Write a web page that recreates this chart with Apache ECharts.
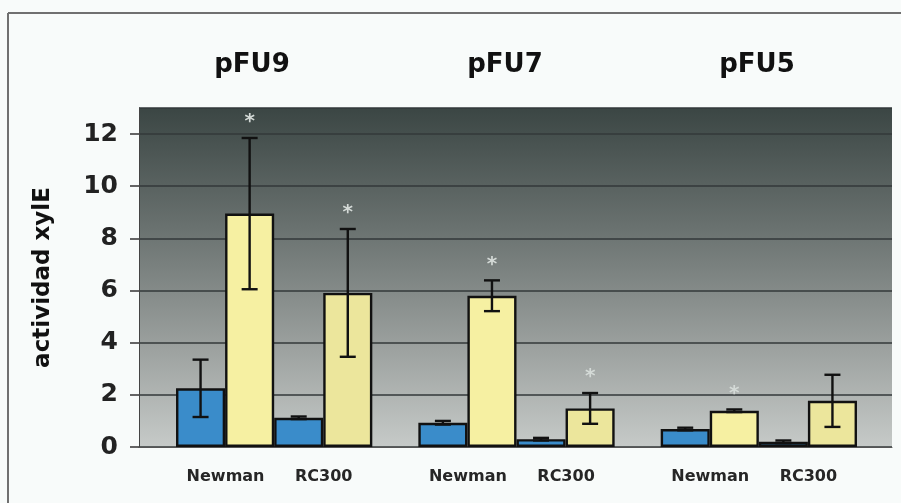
<!DOCTYPE html>
<html>
<head>
<meta charset="utf-8">
<script src="https://cdn.jsdelivr.net/npm/echarts@6/dist/echarts.min.js"></script>
<style>
html,body{margin:0;padding:0;background:#f8fbfa;}
#chart{width:901px;height:503px;}
</style>
</head>
<body>
<div id="chart"></div>
<script>
// ---- data ----
var groups = ['pFU9', 'pFU7', 'pFU5'];
var strainLabels = ['Newman', 'RC300'];
var yTicks = [0, 2, 4, 6, 8, 10, 12];
var newmanCtrl = [2.25, 0.93, 0.69];
var newmanCtrlErr = [1.10, 0.07, 0.05];
var newmanInd = [8.95, 5.80, 1.39];
var newmanIndErr = [2.90, 0.59, 0.05];
var rcCtrl = [1.12, 0.30, 0.20];
var rcCtrlErr = [0.05, 0.05, 0.05];
var rcInd = [5.91, 1.48, 1.77];
var rcIndErr = [2.45, 0.59, 1.00];
var newmanIndSig = [1, 1, 1];
var rcIndSig = [1, 1, 0];
var yAxisTitle = 'actividad xylE';

// ---- styles ----
var FONT = '"DejaVu Sans", sans-serif';
var BLUE = '#3a8cca';
var YELLOW = '#f6f0a2';
var YELLOW2 = '#ece69c';
var CAT_GAP = 0.19;

var chart = echarts.init(document.getElementById('chart'));

var means = [newmanCtrl, newmanInd, rcCtrl, rcInd];
var errs = [newmanCtrlErr, newmanIndErr, rcCtrlErr, rcIndErr];
var sigs = [null, newmanIndSig, null, rcIndSig];
var colors = [BLUE, YELLOW, BLUE, YELLOW2];

function errSeries(k) {
  var data = means[k].map(function (v, i) {
    return [i, v, errs[k][i], sigs[k] ? sigs[k][i] : 0];
  });
  return {
    type: 'custom',
    xAxisIndex: 1, yAxisIndex: 1,
    z: 5,
    silent: true,
    data: data,
    renderItem: function (params, api) {
      var ci = api.value(0), m = api.value(1), e = api.value(2), s = api.value(3);
      var bw = api.size([1, 0])[0];
      var barW = bw * (1 - CAT_GAP) / 4;
      var cx = api.coord([ci, 0])[0] + (k - 1.5) * barW;
      var yTop = api.coord([ci, m + e])[1];
      var yBot = api.coord([ci, m - e])[1];
      var cap = 8;
      var st = { stroke: '#111', lineWidth: 2.4 };
      var children = [
        { type: 'line', shape: { x1: cx, y1: yTop, x2: cx, y2: yBot }, style: st },
        { type: 'line', shape: { x1: cx - cap, y1: yTop, x2: cx + cap, y2: yTop }, style: st },
        { type: 'line', shape: { x1: cx - cap, y1: yBot, x2: cx + cap, y2: yBot }, style: st }
      ];
      if (s) {
        children.push({
          type: 'text',
          style: {
            x: cx, y: yTop - 16, text: '*', textAlign: 'center', textVerticalAlign: 'middle',
            fill: '#d4dad7', font: 'bold 20px ' + FONT
          }
        });
      }
      return { type: 'group', children: children };
    }
  };
}

function barSeries(k, labelText) {
  var s = {
    type: 'bar',
    xAxisIndex: 1, yAxisIndex: 1,
    data: means[k],
    barGap: '0%',
    barCategoryGap: (CAT_GAP * 100) + '%',
    itemStyle: { color: colors[k], borderColor: '#111', borderWidth: 2.4 },
    z: 3
  };
  if (labelText) {
    s.label = {
      show: true,
      position: 'bottom',
      distance: 22,
      offset: [25, 0],
      formatter: function () { return labelText; },
      color: '#262626',
      fontFamily: FONT,
      fontWeight: 'bold',
      fontSize: 16
    };
  }
  return s;
}

var titleX = [252, 505, 757];

var option = {
  backgroundColor: '#f8fbfa',
  animation: false,
  graphic: [
    { type: 'line', shape: { x1: 8, y1: 13, x2: 901, y2: 13 }, style: { stroke: '#707070', lineWidth: 2 }, z: 10 },
    { type: 'line', shape: { x1: 8, y1: 13, x2: 8, y2: 503 }, style: { stroke: '#707070', lineWidth: 2 }, z: 10 }
  ].concat(groups.map(function (g, i) {
    return {
      type: 'text', x: titleX[i], y: 52,
      style: { text: g, textAlign: 'center', fill: '#111', font: 'bold 26px ' + FONT },
      z: 10
    };
  })),
  grid: [
    {
      left: 139, right: 9, top: 108, bottom: 56,
      show: true,
      borderWidth: 0,
      backgroundColor: new echarts.graphic.LinearGradient(0, 0, 0, 1, [
        { offset: 0, color: '#3b4644' },
        { offset: 0.35, color: '#69716f' },
        { offset: 0.7, color: '#9ba09e' },
        { offset: 1, color: '#c6cac8' }
      ])
    },
    { left: 153, right: 21, top: 108, bottom: 56 }
  ],
  xAxis: [
    {
      type: 'category', gridIndex: 0, data: groups,
      axisLine: { show: true, lineStyle: { color: '#555', width: 1 } },
      axisTick: { show: false }, axisLabel: { show: false }
    },
    {
      type: 'category', gridIndex: 1, data: groups,
      axisLine: { show: false }, axisTick: { show: false }, axisLabel: { show: false }
    }
  ],
  yAxis: [
    {
      type: 'value', gridIndex: 0, min: 0, max: 13, interval: 2,
      name: yAxisTitle,
      nameLocation: 'middle',
      nameGap: 84,
      nameRotate: 90,
      nameTextStyle: { color: '#111', fontFamily: FONT, fontWeight: 'bold', fontSize: 23 },
      axisLine: { show: true, lineStyle: { color: '#444', width: 1 } },
      axisTick: { show: true, length: 9, lineStyle: { color: '#333', width: 1.5 } },
      axisLabel: {
        margin: 21, color: '#222', fontFamily: FONT, fontWeight: 'bold', fontSize: 25,
        showMaxLabel: false,
        formatter: function (v) { return yTicks.indexOf(v) >= 0 ? String(v) : ''; }
      },
      splitLine: { show: true, lineStyle: { color: '#33393a', width: 1.5 } }
    },
    {
      type: 'value', gridIndex: 1, min: 0, max: 13, interval: 2, show: false,
      splitLine: { show: false }
    }
  ],
  series: [
    barSeries(0, strainLabels[0]),
    barSeries(1, null),
    barSeries(2, strainLabels[1]),
    barSeries(3, null),
    errSeries(0), errSeries(1), errSeries(2), errSeries(3)
  ]
};
chart.setOption(option);
</script>
</body>
</html>
